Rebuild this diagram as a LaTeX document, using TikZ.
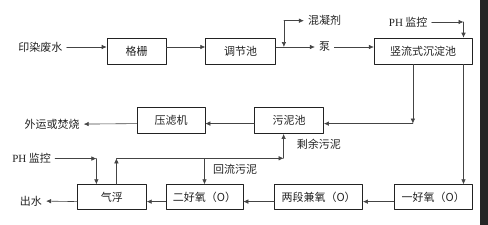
\documentclass[tikz,border=0pt]{standalone}
\usepackage{fontspec}
\setmainfont{Liberation Serif}
\newfontfamily\cjk{Noto Sans CJK SC}
\usepackage{xcolor}
\usepackage{tikz}
\usetikzlibrary{arrows.meta,positioning}
\definecolor{ink}{HTML}{222222}
\definecolor{wire}{HTML}{444444}
\tikzset{
    every picture/.style={line cap=round,line join=round},
    procbox/.style={draw=ink,line width=0.6pt,minimum height=26pt,inner sep=0pt,
      text=ink,font=\cjk\fontsize{11}{13}\selectfont},
    tag/.style={inner xsep=4pt,inner ysep=1pt,text=ink,
      font=\cjk\fontsize{11}{13}\selectfont},
    flowarrow/.style={-{Latex[length=5pt,width=4.5pt]},draw=wire,line width=0.6pt}
}

\begin{document}
\begin{tikzpicture}
  \useasboundingbox (0,0) rectangle (488pt,-225pt);
  \fill[black!85] (480pt,0) rectangle (488pt,-225pt);
  % row 1
  \node[procbox,minimum width=59pt] (gs) at (136.5pt,-51pt) {格栅};
  \node[procbox,minimum width=70pt,right=39pt of gs] (tj) {调节池};
  \node[procbox,minimum width=98pt,right=98pt of tj] (sl) {竖流式沉淀池};
  \node[tag,left=40pt of gs,yshift=4pt] (src) {印染废水};
  \node[tag,right=39pt of tj,yshift=4pt] (beng) {泵};
  \node[tag,above=14pt of beng] (hnj) {混凝剂};
  \node[tag,above=9.5pt of sl,xshift=-15pt] (ph1) {{\rmfamily PH} 监控};
  % row 2
  \node[procbox,minimum width=69pt,below left=43pt and 50pt of sl] (wnc) {污泥池};
  \node[procbox,minimum width=68pt,left=49pt of wnc] (ylj) {压滤机};
  \node[tag,left=53pt of ylj,yshift=-3.5pt] (wyfs) {外运或焚烧};
  \node[tag,below right=4pt and 3.5pt of wnc.south] (syw) {剩余污泥};
  % row 3
  \node[procbox,minimum width=78pt,minimum height=25pt,
    below left=120pt and 0pt of sl.south east] (yh) {一好氧（O）};
  \node[procbox,minimum width=88pt,minimum height=25pt,left=31pt of yh] (ld) {两段兼氧（O）};
  \node[procbox,minimum width=77pt,minimum height=25pt,left=31pt of ld] (eh) {二好氧（O）};
  \node[procbox,minimum width=69pt,minimum height=25pt,left=19pt of eh] (qf) {气浮};
  \node[tag,left=31pt of qf,yshift=-4pt] (cs) {出水};
  \node[tag,above left=19.5pt and 22pt of qf.north west] (ph2) {{\rmfamily PH} 监控};

  % main line
  \draw[flowarrow] (src.east) -- ([yshift=4pt]gs.west);
  \draw[flowarrow] ([yshift=4pt]gs.east) -- ([yshift=4pt]tj.west);
  \draw[flowarrow] ([yshift=4pt]tj.east) -- (beng.west);
  \draw[flowarrow] (beng.east) -- ([yshift=4pt]sl.west);
  \coordinate (k6) at ([xshift=8pt,yshift=4pt]tj.east);
  \coordinate (k7) at (k6 |- hnj);
  \draw[flowarrow] (k7) -- (k6);
  \draw[flowarrow] (k7) -- (hnj.west);
  \coordinate (k4) at ([xshift=-9pt]sl.north east);
  \coordinate (k5) at (k4 |- ph1);
  \draw[flowarrow] (ph1.east) -- (k5);
  \draw[flowarrow] (k5) -- (k4);

  % sludge
  \coordinate (k1) at ([yshift=-3pt]wnc.east);
  \coordinate (k2) at ([xshift=39pt]sl.south west);
  \coordinate (k3) at (k2 |- k1);
  \draw[flowarrow] (k2) -- (k3);
  \draw[flowarrow] (k3) -- (k1);
  \draw[flowarrow] ([yshift=-3pt]wnc.west) -- ([yshift=-3pt]ylj.east);
  \draw[flowarrow] ([yshift=-3pt]ylj.west) -- (wyfs.east);

  % biological line
  \coordinate (k15) at ([xshift=-9pt]sl.south east);
  \coordinate (k16) at (k15 |- yh.north);
  \draw[flowarrow] (k15) -- (k16);
  \draw[flowarrow] ([yshift=-4.5pt]yh.west) -- ([yshift=-4.5pt]ld.east);
  \draw[flowarrow] ([yshift=-4.5pt]ld.west) -- ([yshift=-4.5pt]eh.east);
  \draw[flowarrow] ([yshift=-4.5pt]eh.west) -- ([yshift=-4.5pt]qf.east);
  \draw[flowarrow] ([yshift=-4.5pt]qf.west) -- (cs.east);

  % return sludge
  \coordinate (k8) at ([xshift=-5.5pt]wnc.south);
  \coordinate (k12) at ([xshift=4.5pt]qf.north);
  \coordinate (k10) at ([yshift=26pt]k12);
  \coordinate (k9) at (k8 |- k10);
  \coordinate (k11) at (eh.north |- k10);
  \draw[flowarrow] (k12) -- (k10);
  \draw[flowarrow] (k10) -- (k9);
  \draw[flowarrow] (k9) -- (k8);
  \draw[flowarrow] (k11) -- (eh.north);
  \node[tag,below right=5pt and 4.5pt of k11] (hlw) {回流污泥};
  \coordinate (k13) at ([xshift=-15.5pt]qf.north);
  \coordinate (k14) at (k13 |- ph2);
  \draw[flowarrow] (ph2.east) -- (k14);
  \draw[flowarrow] (k14) -- (k13);
\end{tikzpicture}
\end{document}
